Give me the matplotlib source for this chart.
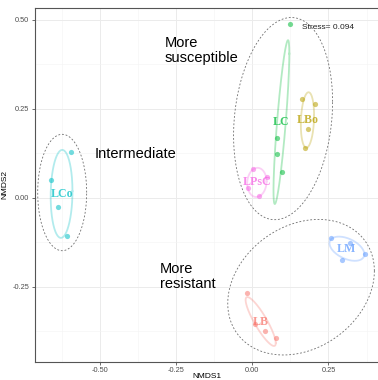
import numpy as np
import matplotlib
matplotlib.use('Agg')
import matplotlib.pyplot as plt
from matplotlib.ticker import FixedLocator, FuncFormatter

# NMDS scores (4 samples per group)
groups = ['LB', 'LBo', 'LC', 'LCo', 'LM', 'LPsC']
colors = ['#F8766D', '#B79F00', '#00BA38', '#00BFC4', '#619CFF', '#F564E3']

nmds1 = {
    'LB':   [-0.016, 0.008, 0.041, 0.077],
    'LBo':  [0.163, 0.205, 0.182, 0.174],
    'LC':   [0.125, 0.080, 0.080, 0.097],
    'LCo':  [-0.596, -0.661, -0.638, -0.609],
    'LM':   [0.258, 0.321, 0.294, 0.369],
    'LPsC': [0.003, 0.047, -0.013, 0.023],
}
nmds2 = {
    'LB':   [-0.266, -0.355, -0.374, -0.393],
    'LBo':  [0.277, 0.264, 0.195, 0.140],
    'LC':   [0.489, 0.169, 0.123, 0.072],
    'LCo':  [0.128, 0.051, -0.026, -0.107],
    'LM':   [-0.113, -0.126, -0.173, -0.158],
    'LPsC': [0.082, 0.059, 0.028, 0.006],
}

stress = 0.094

# hand drawn outlines: centre and shape (var x, var y, cov xy)
outline_labels = ['More\nsusceptible', 'Intermediate', 'More\nresistant']
outline_centers = [(0.101, 0.223), (-0.624, 0.0154), (0.160, -0.2506)]
outline_shapes = [(0.02641, 0.08066, 0.00773),
                  (0.00646, 0.02673, 0.0),
                  (0.05789, 0.03625, 0.011)]
label_pos = [(-0.2865, 0.414), (-0.518, 0.1244), (-0.303, -0.2205)]


def ellipse_xy(center, cov, radius, n=200):
    t = np.linspace(0, 2 * np.pi, n + 1)
    circle = np.column_stack([np.cos(t), np.sin(t)])
    chol = np.linalg.cholesky(cov).T
    pts = np.asarray(center) + radius * circle @ chol
    return pts[:, 0], pts[:, 1]


fig = plt.figure(figsize=(3.78, 3.80), dpi=100)
ax = fig.add_axes([35 / 378, 18.5 / 380, 344 / 378, 353.5 / 380])

# groups: points, standard-error ellipse (95%), label at centroid
chi = -2 * np.log(1 - 0.95)
for g, c in zip(groups, colors):
    x = np.array(nmds1[g])
    y = np.array(nmds2[g])
    ax.scatter(x, y, s=14, color=c, alpha=0.55, linewidths=0, zorder=3)
    cov = np.cov(x, y)
    ex, ey = ellipse_xy([x.mean(), y.mean()], cov, np.sqrt(chi / len(x)))
    ax.plot(ex, ey, color=c, alpha=0.3, lw=1.3, zorder=2)
    ax.text(x.mean(), y.mean(), g, color=c, alpha=0.75, fontsize=8.6,
            family='Liberation Serif', fontweight='bold',
            ha='center', va='center', zorder=4)

for ctr, sh, lab, pos in zip(outline_centers, outline_shapes, outline_labels, label_pos):
    cov = np.array([[sh[0], sh[2]], [sh[2], sh[1]]])
    ex, ey = ellipse_xy(ctr, cov, 1.0)
    ax.plot(ex, ey, color='#6E6E6E', lw=0.6, ls=(0, (2.2, 2.2)), zorder=2)
    ax.text(pos[0], pos[1], lab, fontsize=10.5, family='Liberation Sans',
            ha='left', va='center', linespacing=1.1, color='black')

ax.text(0.162, 0.4795, 'Stress= ' + str(stress), fontsize=6,
        family='Liberation Sans', ha='left', va='center', color='#222222')

ax.set_xlim(-0.7132, 0.4158)
ax.set_ylim(-0.4593, 0.5337)

xt = [-0.5, -0.25, 0.0, 0.25]
yt = [-0.25, 0.0, 0.25, 0.5]
ax.xaxis.set_major_locator(FixedLocator(xt))
ax.yaxis.set_major_locator(FixedLocator(yt))
ax.xaxis.set_minor_locator(FixedLocator([-0.625, -0.375, -0.125, 0.125, 0.375]))
ax.yaxis.set_minor_locator(FixedLocator([-0.375, -0.125, 0.125, 0.375]))
fmt = FuncFormatter(lambda v, p: '{:.2f}'.format(v))
ax.xaxis.set_major_formatter(fmt)
ax.yaxis.set_major_formatter(fmt)

ax.grid(which='major', color='#EBEBEB', lw=0.7, zorder=0)
ax.grid(which='minor', color='#F3F3F3', lw=0.4, zorder=0)
ax.set_axisbelow(True)
ax.tick_params(which='major', length=2.5, width=0.5, color='#333333',
               labelsize=5.3, labelcolor='#4D4D4D', pad=1.5)
ax.tick_params(which='minor', length=0)
for s in ax.spines.values():
    s.set_color('#555555')
    s.set_linewidth(0.8)

ax.set_xlabel('NMDS1', fontsize=6, family='Liberation Sans', labelpad=-1)
ax.set_ylabel('NMDS2', fontsize=6, family='Liberation Sans', labelpad=3)
for lbl in ax.get_xticklabels() + ax.get_yticklabels():
    lbl.set_family('Liberation Sans')

fig.savefig('out.png', dpi=100)
